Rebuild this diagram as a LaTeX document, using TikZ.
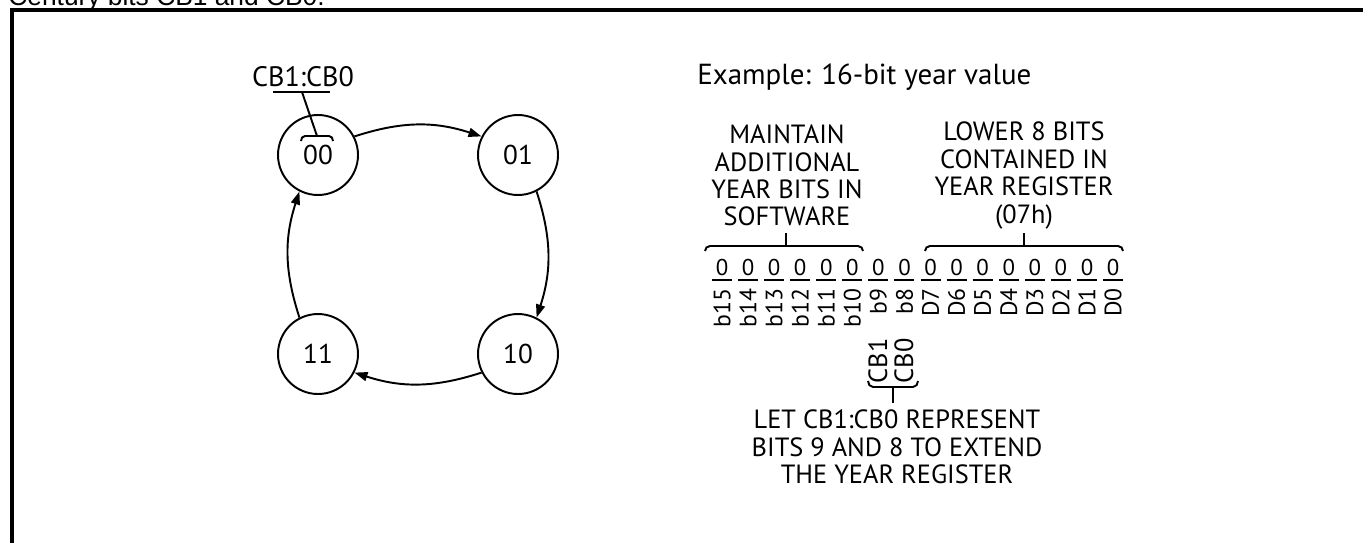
\documentclass[tikz,border=0pt]{standalone}
\usepackage{fontspec}
\setmainfont{PT Sans}
\newfontfamily\arialfont{Liberation Sans}
\usetikzlibrary{arrows.meta, positioning}
\tikzstyle{state} = [circle, draw=black, line width=1.1pt, minimum size=1.6cm, inner sep=0pt, font=\fontsize{15.5}{16}\selectfont]
\tikzstyle{arrow} = [line width=1.1pt, -{Triangle[length=0.26cm,width=0.18cm]}]
\tikzstyle{caption} = [align=center, inner sep=0pt, font=\fontsize{15}{15.6}\selectfont]
\tikzstyle{bit} = [inner sep=0pt, font=\fontsize{13}{13}\selectfont]
\tikzstyle{bitname} = [rotate=90, anchor=east, inner sep=0pt, font=\fontsize{13.5}{13.5}\selectfont]
\tikzstyle{rule} = [line width=1.1pt]

\begin{document}
\begin{tikzpicture}[x=0.02cm, y=0.02cm]
    \clip (0,0) rectangle (1363,-542);
    % cut-off heading and frame
    \node (title) [anchor=base west, inner sep=0pt, font=\arialfont\fontsize{15}{15}\selectfont] at (8,-5) {Century bits CB1 and CB0.};
    \draw [line width=0.08cm] (12,-560) -- (12,-10) -- (1380,-10);

    % century counter
    \node (n00) [state] at (318,-155) {00};
    \node (n01) [state] at (518,-155) {01};
    \node (n10) [state] at (518,-354) {10};
    \node (n11) [state] at (318,-354) {11};

    \draw [arrow] (n00.27) to[bend left=18] (n01.153);
    \draw [arrow] (n01.-63) to[bend left=18] (n10.63);
    \draw [arrow] (n10.-153) to[bend left=18] (n11.-27);
    \draw [arrow] (n11.117) to[bend left=18] (n00.-117);

    \node (cblabel) [caption, font=\fontsize{16}{16}\selectfont] at (303,-77) {CB1:CB0};
    \draw [rule] (273,-92) -- (330,-92);
    \draw [rule] (302,-92) -- (317,-136);
    \draw [rule] (301,-141) to[out=90,in=180] (305,-136) -- (329,-136) to[out=0,in=90] (333,-141);

    % year value
    \node (example) [caption, anchor=west, font=\fontsize{16.5}{16.5}\selectfont] at (697,-77) {Example: 16-bit year value};
    \node (maintain) [caption] at (787,-175.5) {MAINTAIN\\ADDITIONAL\\YEAR BITS IN\\SOFTWARE};
    \node (lower) [caption] at (1024,-175.5) {LOWER 8 BITS\\CONTAINED IN\\YEAR REGISTER\\(07h)};

    \foreach \lab [count=\k from 0] in {b15,b14,b13,b12,b11,b10,b9,b8,D7,D6,D5,D4,D3,D2,D1,D0} {
        \node (z\k) [bit] at ({722+26.07*\k},-267) {0};
        \draw [rule] ({712+26.07*\k},-280) -- ++(20,0);
        \node (l\k) [bitname] at ({722+26.07*\k},-288) {\lab};
    }

    \draw [rule] (705,-251) to[out=90,in=180] (710,-246) -- (858,-246) to[out=0,in=90] (863,-251);
    \draw [rule] (786,-246) -- (786,-233);
    \draw [rule] (925,-251) to[out=90,in=180] (930,-246) -- (1118,-246) to[out=0,in=90] (1123,-251);
    \draw [rule] (1024,-246) -- (1024,-233);

    % extension bits
    \node (cb1) [bitname, font=\fontsize{15}{15}\selectfont] at (878,-338) {CB1};
    \node (cb0) [bitname, font=\fontsize{15}{15}\selectfont] at (904,-338) {CB0};
    \draw [rule] (868,-381) to[out=-90,in=180] (873,-387) -- (913,-387) to[out=0,in=-90] (918,-381);
    \draw [rule] (893,-387) -- (893,-403);
    \node (extend) [caption] at (897,-447) {LET CB1:CB0 REPRESENT\\BITS 9 AND 8 TO EXTEND\\THE YEAR REGISTER};
\end{tikzpicture}
\end{document}
